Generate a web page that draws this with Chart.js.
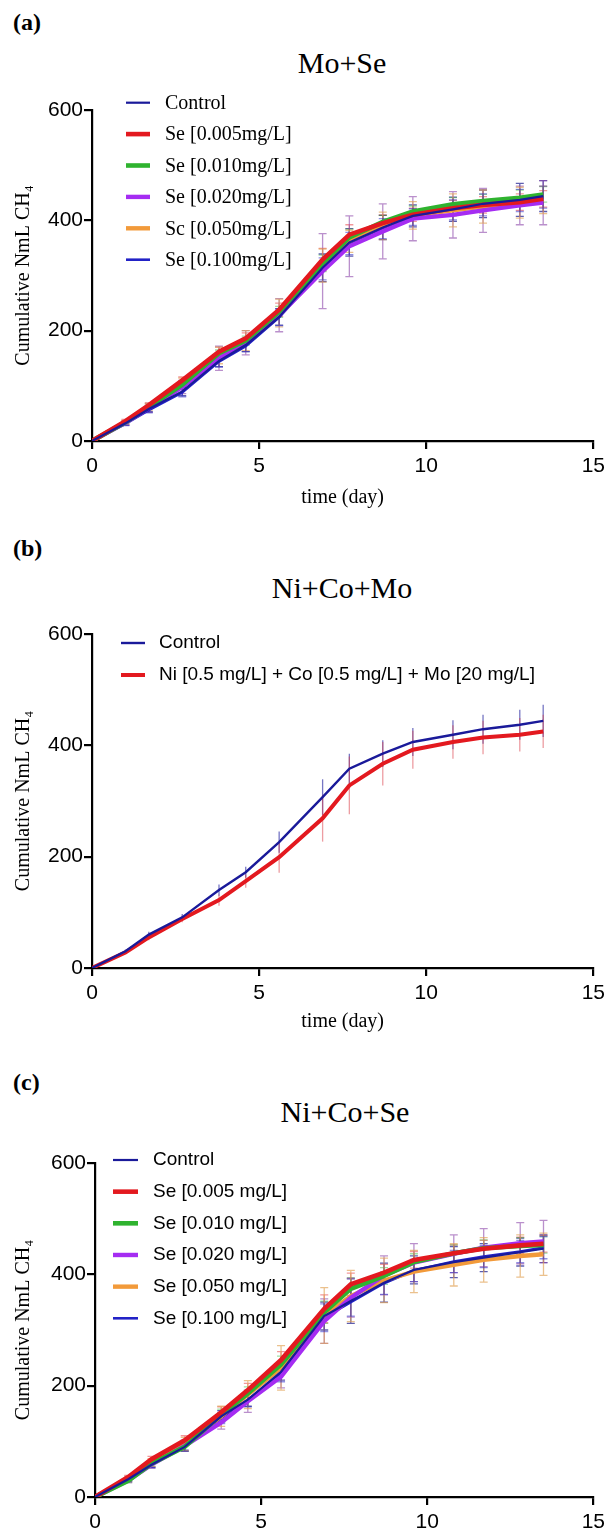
<!DOCTYPE html>
<html>
<head>
<meta charset="utf-8">
<script src="https://cdn.jsdelivr.net/npm/chart.js@4.4.1/dist/chart.umd.min.js"></script>
<style>
  html, body { margin: 0; padding: 0; background: #fff; }
  body { width: 610px; height: 1531px; position: relative; overflow: hidden; }
  .lbl { position: absolute; left: 13px; font-family: "Liberation Serif", "Times New Roman", serif;
         font-weight: bold; font-size: 24px; line-height: 24px; color: #000; }
  .ttl { position: absolute; width: 400px; text-align: center; color: #000;
         font-family: "Liberation Serif", "Times New Roman", serif; font-size: 30px; line-height: 30px; }
  canvas { position: absolute; left: 0; }
</style>
</head>
<body>
<div class="lbl" style="top:10px">(a)</div>
<div class="ttl" style="left:142px;top:48px">Mo+Se</div>
<canvas id="chartA" width="610" height="430" style="top:90px"></canvas>

<div class="lbl" style="top:536px">(b)</div>
<div class="ttl" style="left:142px;top:573px">Ni+Co+Mo</div>
<canvas id="chartB" width="610" height="430" style="top:614px"></canvas>

<div class="lbl" style="top:1070px">(c)</div>
<div class="ttl" style="left:145px;top:1097px">Ni+Co+Se</div>
<canvas id="chartC" width="610" height="388" style="top:1143px"></canvas>

<script>
// Sampling days (shared by all three experiments)
const days = [0, 1, 1.7, 2.7, 3.8, 4.6, 5.6, 6.9, 7.7, 8.7, 9.6, 10.8, 11.7, 12.8, 13.5];

// Axis ticks
const xTicks = [0, 5, 10, 15];
const yTicks = [0, 200, 400, 600];

// ---- (a) Mo+Se : cumulative methane, NmL ----
const labelsA = ['Control', 'Se [0.005mg/L]', 'Se [0.010mg/L]', 'Se [0.020mg/L]', 'Sc [0.050mg/L]', 'Se [0.100mg/L]'];
const ctrlA   = [0, 32, 58, 90, 145, 174, 225, 314, 360, 387, 408, 420, 430, 437, 444];
const se005A  = [0, 36, 65, 110, 162, 186, 238, 329, 374, 395, 410, 422, 428, 433, 439];
const se010A  = [0, 34, 62, 102, 159, 182, 234, 322, 369, 397, 416, 429, 435, 441, 447];
const se020A  = [0, 33, 60, 98, 150, 178, 228, 308, 353, 380, 403, 410, 418, 427, 432];
const se050A  = [0, 34, 62, 104, 155, 182, 232, 318, 362, 390, 409, 418, 425, 432, 437];
const se100A  = [0, 31, 56, 88, 144, 172, 224, 312, 358, 385, 406, 419, 428, 436, 442];
// standard deviations
const ctrlAErr  = [0, 3, 5, 8, 10, 12, 15, 25, 25, 22, 20, 22, 25, 30, 28];
const se005AErr = [0, 3, 4, 6, 8, 10, 12, 20, 18, 15, 12, 14, 15, 15, 15];
const se010AErr = [0, 2, 3, 5, 6, 8, 10, 15, 15, 12, 10, 12, 12, 14, 14];
const se020AErr = [0, 4, 8, 12, 22, 22, 30, 68, 55, 50, 40, 42, 40, 35, 40];
const se050AErr = [0, 3, 6, 10, 15, 18, 25, 30, 20, 25, 25, 30, 30, 28, 25];
const se100AErr = [0, 3, 5, 8, 10, 10, 15, 20, 20, 18, 15, 18, 20, 20, 20];

// ---- (b) Ni+Co+Mo ----
const labelsB = ['Control', 'Ni [0.5 mg/L] + Co [0.5 mg/L] + Mo [20 mg/L]'];
const ctrlB    = [0, 30, 60, 91, 140, 172, 226, 307, 358, 385, 406, 419, 429, 437, 444];
const nicomoB  = [0, 28, 55, 88, 122, 156, 199, 269, 328, 367, 392, 406, 414, 419, 425];
const ctrlBErr   = [0, 3, 5, 6, 10, 10, 19, 32, 27, 24, 25, 26, 26, 27, 29];
const nicomoBErr = [0, 3, 5, 6, 10, 12, 28, 42, 52, 39, 34, 30, 30, 30, 30];

// ---- (c) Ni+Co+Se ----
const labelsC = ['Control', 'Se [0.005 mg/L]', 'Se [0.010 mg/L]', 'Se [0.020 mg/L]', 'Se [0.050 mg/L]', 'Se [0.100 mg/L]'];
const ctrlC   = [0, 32, 58, 90, 145, 175, 225, 325, 352, 385, 408, 422, 430, 440, 446];
const se005C  = [0, 36, 68, 102, 152, 192, 246, 338, 382, 403, 426, 438, 446, 452, 455];
const se010C  = [0, 29, 60, 90, 148, 186, 238, 332, 374, 397, 422, 438, 447, 451, 453];
const se020C  = [0, 30, 58, 92, 134, 172, 216, 316, 358, 398, 421, 437, 448, 456, 459];
const se050C  = [0, 32, 62, 95, 145, 184, 232, 326, 361, 389, 405, 417, 426, 433, 436];
const se100C  = [0, 31, 58, 90, 142, 174, 222, 322, 350, 384, 407, 423, 432, 441, 448];
const ctrlCErr  = [0, 3, 5, 6, 10, 12, 15, 25, 40, 35, 25, 28, 25, 25, 25];
const se005CErr = [0, 3, 5, 8, 10, 12, 15, 25, 20, 15, 15, 15, 15, 15, 15];
const se010CErr = [0, 3, 5, 8, 10, 12, 15, 20, 20, 15, 15, 15, 15, 15, 15];
const se020CErr = [0, 4, 6, 10, 12, 20, 20, 40, 35, 35, 34, 34, 34, 37, 38];
const se050CErr = [0, 4, 7, 12, 18, 25, 40, 50, 46, 40, 38, 38, 40, 38, 38];
const se100CErr = [0, 3, 5, 8, 10, 12, 15, 25, 25, 20, 20, 20, 20, 20, 20];

// Series colours
const C_CTRL = '#1a1a9a', C_RED = '#e3191f', C_GREEN = '#2fb32f',
      C_PURPLE = '#a52cf2', C_ORANGE = '#f29a3a', C_BLUE = '#2222c6';

const SERIF = "'Liberation Serif', 'Times New Roman', 'DejaVu Serif', serif";
const SANS  = "'Liberation Sans', Arial, sans-serif";

// Vertical mean ± SD bars, drawn underneath the curves
const errorBars = {
  id: 'errorBars',
  beforeDatasetsDraw(chart, args, opts) {
    const { ctx, scales: { x, y } } = chart;
    ctx.save();
    ctx.lineWidth = opts.width || 1.2;
    chart.data.datasets.forEach((ds) => {
      if (!ds.errors) return;
      ctx.strokeStyle = ds.errorColor;
      ds.data.forEach((p, j) => {
        const e = ds.errors[j];
        if (!e) return;
        const px = x.getPixelForValue(p.x);
        const t = y.getPixelForValue(p.y + e);
        const b = y.getPixelForValue(p.y - e);
        const c = opts.cap || 0;
        ctx.beginPath();
        ctx.moveTo(px, t); ctx.lineTo(px, b);
        if (c) {
          ctx.moveTo(px - c, t); ctx.lineTo(px + c, t);
          ctx.moveTo(px - c, b); ctx.lineTo(px + c, b);
        }
        ctx.stroke();
      });
    });
    ctx.restore();
  }
};

// Legend drawn inside the plotting area, one entry per row
const insetLegend = {
  id: 'insetLegend',
  afterDraw(chart, args, o) {
    const { ctx, chartArea: a } = chart;
    ctx.save();
    ctx.font = o.font;
    ctx.textBaseline = 'middle';
    ctx.textAlign = 'left';
    ctx.fillStyle = '#000';
    chart.data.datasets.forEach((ds, i) => {
      const yy = a.top + o.top + i * o.step;
      ctx.strokeStyle = ds.borderColor;
      ctx.lineWidth = ds.legendWidth;
      ctx.beginPath();
      ctx.moveTo(a.left + o.lineStart, yy);
      ctx.lineTo(a.left + o.lineStart + o.lineLen, yy);
      ctx.stroke();
      ctx.fillText(ds.label, a.left + o.textStart, yy + (o.textShift || 0));
    });
    ctx.restore();
  }
};

function series(label, values, errs, color, width, errColor) {
  return {
    label,
    data: days.map((d, i) => ({ x: d, y: values[i] })),
    errors: errs,
    errorColor: errColor,
    borderColor: color,
    borderWidth: width,
    legendWidth: width,
    pointRadius: 0,
    tension: 0,
    fill: false
  };
}

function makeChart(id, datasets, p) {
  return new Chart(document.getElementById(id), {
    type: 'line',
    data: { datasets },
    plugins: [errorBars, insetLegend],
    options: {
      responsive: false,
      animation: false,
      devicePixelRatio: 1,
      layout: { padding: { top: p.padTop, right: p.padRight, left: 0, bottom: 0 } },
      plugins: {
        legend: { display: false },
        tooltip: { enabled: false },
        title: { display: false },
        errorBars: { cap: p.cap, width: 1.3 },
        insetLegend: p.legend
      },
      scales: {
        x: {
          type: 'linear', min: 0, max: 15,
          afterBuildTicks: s => { s.ticks = xTicks.map(v => ({ value: v })); },
          afterFit: s => { s.height = p.xHeight; },
          border: { color: '#000', width: 2.2 },
          grid: { drawOnChartArea: false, drawTicks: true, tickLength: 8, color: '#000', lineWidth: 2.2 },
          ticks: { color: '#000', padding: 5, font: { family: SANS, size: 21 }, maxRotation: 0 },
          title: p.xTitle ? { display: true, text: 'time (day)', color: '#000',
                   font: { family: SERIF, size: 20 }, padding: { top: 0, bottom: p.xTitlePad } } : { display: false }
        },
        y: {
          type: 'linear', min: 0, max: 600,
          afterBuildTicks: s => { s.ticks = yTicks.map(v => ({ value: v })); },
          afterFit: s => { s.width = p.yWidth; },
          border: { color: '#000', width: 2.2 },
          grid: { drawOnChartArea: false, drawTicks: true, tickLength: 8, color: '#000', lineWidth: 2.2 },
          ticks: { color: '#000', padding: 1, font: { family: SANS, size: 21 } },
          title: { display: true, text: 'Cumulative NmL CH\u2084', color: '#000',
                   font: { family: SERIF, size: 20 }, padding: { top: 12, bottom: 0 } }
        }
      }
    }
  });
}

// (a)
makeChart('chartA', [
  series(labelsA[0], ctrlA,  ctrlAErr,  C_CTRL,   2.2, 'rgba(40,40,150,0.75)'),
  series(labelsA[1], se005A, se005AErr, C_RED,    4.6, 'rgba(227,25,31,0.45)'),
  series(labelsA[2], se010A, se010AErr, C_GREEN,  4.6, 'rgba(47,179,47,0.45)'),
  series(labelsA[3], se020A, se020AErr, C_PURPLE, 4.4, 'rgba(140,70,170,0.6)'),
  series(labelsA[4], se050A, se050AErr, C_ORANGE, 4.4, 'rgba(225,160,80,0.65)'),
  series(labelsA[5], se100A, se100AErr, C_BLUE,   2.6, 'rgba(34,34,198,0.5)')
], {
  padTop: 20, padRight: 15, yWidth: 92, xHeight: 79, xTitle: true, xTitlePad: 10, cap: 4,
  legend: { font: "20px " + SERIF, top: -7.3, step: 31.4, lineStart: 34, lineLen: 24, textStart: 73, textShift: 1 }
});

// (b)
makeChart('chartB', [
  series(labelsB[0], ctrlB,   ctrlBErr,   C_CTRL, 2.4, 'rgba(60,60,170,0.7)'),
  series(labelsB[1], nicomoB, nicomoBErr, C_RED,  4.0, 'rgba(220,60,70,0.5)')
], {
  padTop: 20, padRight: 15, yWidth: 92, xHeight: 76, xTitle: true, xTitlePad: 10, cap: 0,
  legend: { font: "19px " + SANS, top: 9, step: 32, lineStart: 29, lineLen: 24, textStart: 67, textShift: 0 }
});

// (c)
makeChart('chartC', [
  series(labelsC[0], ctrlC,  ctrlCErr,  C_CTRL,   2.2, 'rgba(40,40,150,0.75)'),
  series(labelsC[1], se005C, se005CErr, C_RED,    4.6, 'rgba(227,25,31,0.45)'),
  series(labelsC[2], se010C, se010CErr, C_GREEN,  4.6, 'rgba(47,179,47,0.45)'),
  series(labelsC[3], se020C, se020CErr, C_PURPLE, 4.4, 'rgba(140,70,170,0.6)'),
  series(labelsC[4], se050C, se050CErr, C_ORANGE, 4.4, 'rgba(225,160,80,0.65)'),
  series(labelsC[5], se100C, se100CErr, C_BLUE,   2.6, 'rgba(34,34,198,0.5)')
], {
  padTop: 20, padRight: 12, yWidth: 95, xHeight: 34, xTitle: false, cap: 4,
  legend: { font: "19px " + SANS, top: -3, step: 31.66, lineStart: 18, lineLen: 25, textStart: 58, textShift: 0 }
});
</script>
</body>
</html>
